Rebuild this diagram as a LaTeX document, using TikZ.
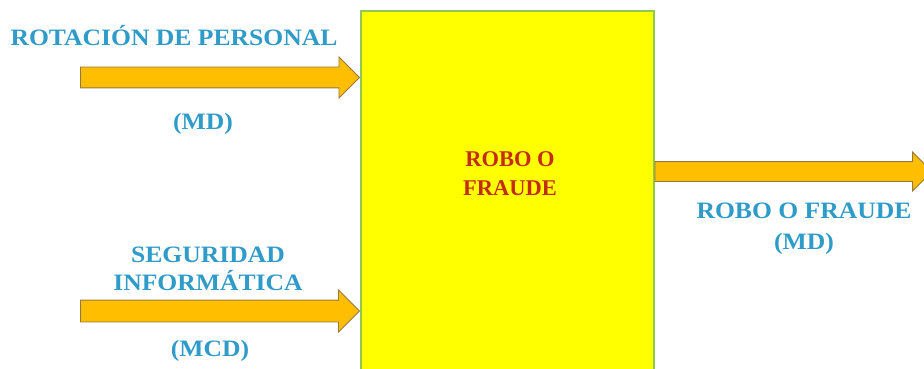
\documentclass[tikz,border=0pt]{standalone}
\usepackage{fontspec}
\setmainfont{Liberation Serif}
\newfontfamily\widserif{Liberation Serif}[FakeStretch=1.09]
\usetikzlibrary{shapes.arrows}
\definecolor{lblblue}{RGB}{46,155,200}
\definecolor{lblred}{RGB}{196,45,20}
\definecolor{boxfill}{RGB}{255,255,0}
\definecolor{boxline}{RGB}{146,200,80}
\definecolor{arrfill}{RGB}{255,190,0}
\definecolor{arrline}{RGB}{150,120,60}
\tikzset{
  lbl/.style={font=\widserif\fontsize{23.5}{28}\selectfont\bfseries, text=lblblue, align=center, inner sep=0pt},
  boxtxt/.style={font=\fontsize{22.5}{29}\selectfont\bfseries, text=lblred, align=center, inner sep=0pt},
  fatarrow/.style={single arrow, draw=arrline, fill=arrfill, line width=0.8pt, inner xsep=0pt,
    single arrow tip angle=90, single arrow head indent=0pt}
}
\begin{document}
\begin{tikzpicture}[x=1pt,y=-1pt]
\useasboundingbox (0,0) rectangle (924,369);
\fill[white] (0,0) rectangle (924,369);
\node[draw=boxline, fill=boxfill, line width=1.6pt, minimum width=293pt, minimum height=370pt, inner sep=0pt, anchor=north west] (box) at (360,10) {};
\node[boxtxt] (boxlabel) at (510,174) {ROBO O\\FRAUDE};
% input arrows
\node[fatarrow, inner ysep=10pt, minimum height=279pt, single arrow head extend=10pt, anchor=tip] (in1) at (box.west |- 0,77.5) {};
\node[fatarrow, inner ysep=10.5pt, minimum height=279pt, single arrow head extend=10pt, anchor=tip] (in2) at (box.west |- 0,311) {};
\node[fatarrow, inner ysep=9.5pt, minimum height=277pt, single arrow head extend=9.5pt, anchor=tail] (out1) at (box.east |- 0,171.5) {};
% labels
\node[lbl] (l1) at (174,36) {ROTACIÓN DE PERSONAL};
\node[lbl] (l1b) at (203,124) {(MD)};
\node[lbl] (l2) at (208,269) {SEGURIDAD\\INFORMÁTICA};
\node[lbl] (l2b) at (210,351) {(MCD)};
\node[lbl, font=\widserif\fontsize{23.5}{31}\selectfont\bfseries] (l3) at (804,229) {ROBO O FRAUDE\\(MD)};
\end{tikzpicture}
\end{document}
